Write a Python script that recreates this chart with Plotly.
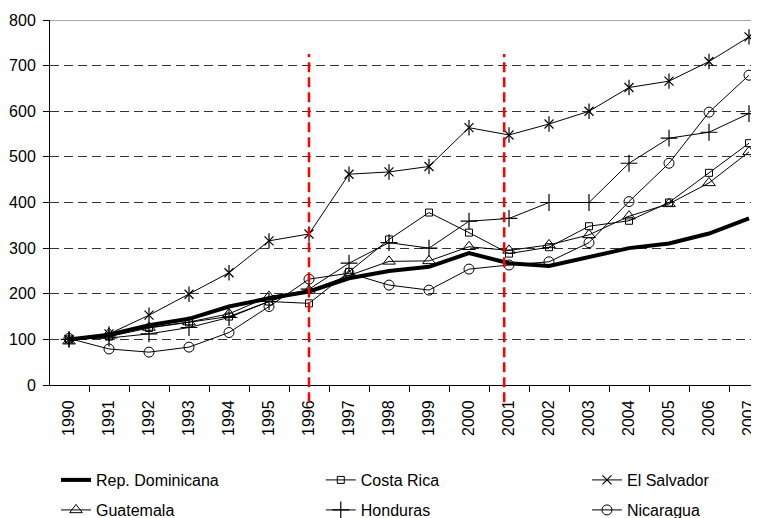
import plotly.graph_objects as go

years = [str(y) for y in range(1990, 2008)]

rep_dominicana = [100, 110, 131, 145, 172, 190, 205, 234, 250, 259, 289, 267, 261, 280, 300, 310, 332, 365]
costa_rica = [100, 106, 125, 137, 150, 183, 179, 248, 319, 378, 334, 288, 302, 348, 360, 400, 465, 530]
el_salvador = [100, 112, 153, 199, 246, 316, 331, 462, 467, 479, 564, 548, 572, 600, 652, 666, 709, 763]
guatemala = [96, 113, 126, 138, 156, 194, 207, 240, 271, 272, 303, 295, 307, 329, 370, 397, 443, 511]
honduras = [100, 103, 112, 126, 148, 183, 210, 267, 312, 300, 359, 365, 400, 400, 486, 541, 554, 595]
nicaragua = [102, 79, 72, 83, 115, 172, 232, 245, 219, 208, 254, 263, 270, 312, 402, 486, 598, 679]

FONT = "Liberation Sans, Arial, sans-serif"

fig = go.Figure()

fig.add_trace(go.Scatter(x=years, y=rep_dominicana, name="Rep. Dominicana", mode="lines",
                         line=dict(color="black", width=4), legend="legend"))
fig.add_trace(go.Scatter(x=years, y=costa_rica, name="Costa Rica", mode="lines+markers",
                         line=dict(color="black", width=1),
                         marker=dict(symbol="square-open", size=7, color="black", line=dict(width=1)),
                         legend="legend2"))
fig.add_trace(go.Scatter(x=years, y=el_salvador, name="El Salvador", mode="lines+markers",
                         line=dict(color="black", width=1),
                         marker=dict(symbol="x-thin-open", size=9, color="black", line=dict(width=1.2)),
                         legend="legend3"))
fig.add_trace(go.Scatter(x=years, y=el_salvador, name="El Salvador", mode="markers",
                         marker=dict(symbol="line-ns-open", size=11, color="black", line=dict(width=1.2)),
                         showlegend=False, hoverinfo="skip"))
fig.add_trace(go.Scatter(x=years, y=guatemala, name="Guatemala", mode="lines+markers",
                         line=dict(color="black", width=1),
                         marker=dict(symbol="triangle-up-open", size=11, color="black", line=dict(width=1)),
                         legend="legend4"))
fig.add_trace(go.Scatter(x=years, y=honduras, name="Honduras", mode="lines+markers",
                         line=dict(color="black", width=1),
                         marker=dict(symbol="cross-thin-open", size=12, color="black", line=dict(width=1.2)),
                         legend="legend5"))
fig.add_trace(go.Scatter(x=years, y=nicaragua, name="Nicaragua", mode="lines+markers",
                         line=dict(color="black", width=1),
                         marker=dict(symbol="circle-open", size=10, color="black", line=dict(width=1)),
                         legend="legend6"))

# top border line at 800
fig.add_shape(type="line", xref="paper", yref="y", x0=0, x1=1, y0=800, y1=800,
              line=dict(color="#8c8c8c", width=1.5), layer="below")

for xpos in [6, 10.88]:
    fig.add_shape(type="line", xref="x", yref="paper", x0=xpos, x1=xpos, y0=-0.047, y1=0.907,
                  line=dict(color="#FF0000", width=2.5, dash="10px,5px"), layer="above")

def leg(x, y):
    return dict(x=x, y=y, orientation="v", xanchor="left", yanchor="middle",
                font=dict(family=FONT, size=16, color="black"),
                bgcolor="rgba(0,0,0,0)", borderwidth=0, itemwidth=30)

col_x = [0.0085, 0.383, 0.7595]
row_y = [-0.2603, -0.3425]

# page body has an 8px margin, so the figure is 8px smaller than the window
fig.update_layout(
    width=751, height=510,
    margin=dict(l=42, r=2, t=12, b=133, autoexpand=False),
    paper_bgcolor="white", plot_bgcolor="white",
    font=dict(family=FONT, size=16, color="black"),
    showlegend=True,
    legend=leg(col_x[0], row_y[0]),
    legend2=leg(col_x[1], row_y[0]),
    legend3=leg(col_x[2], row_y[0]),
    legend4=leg(col_x[0], row_y[1]),
    legend5=leg(col_x[1], row_y[1]),
    legend6=leg(col_x[2], row_y[1]),
    xaxis=dict(type="category", range=[-0.475, 17.2], tickangle=-90, automargin=False,
               ticks="outside", ticklen=6, tickwidth=1, tickcolor="black",
               tickson="boundaries", showline=True, linecolor="black", linewidth=1,
               ticklabelstandoff=8,
               showgrid=False, tickfont=dict(family=FONT, size=16, color="black")),
    yaxis=dict(range=[0, 800], tickmode="linear", tick0=0, dtick=100, automargin=False,
               ticks="outside", ticklen=6, tickwidth=1, tickcolor="black",
               showline=True, linecolor="black", linewidth=1, ticklabelstandoff=4,
               showgrid=True, gridcolor="#333333", gridwidth=1, griddash="9px,5px",
               zeroline=False, tickfont=dict(family=FONT, size=16, color="black")),
)

fig.write_html("out.html")
